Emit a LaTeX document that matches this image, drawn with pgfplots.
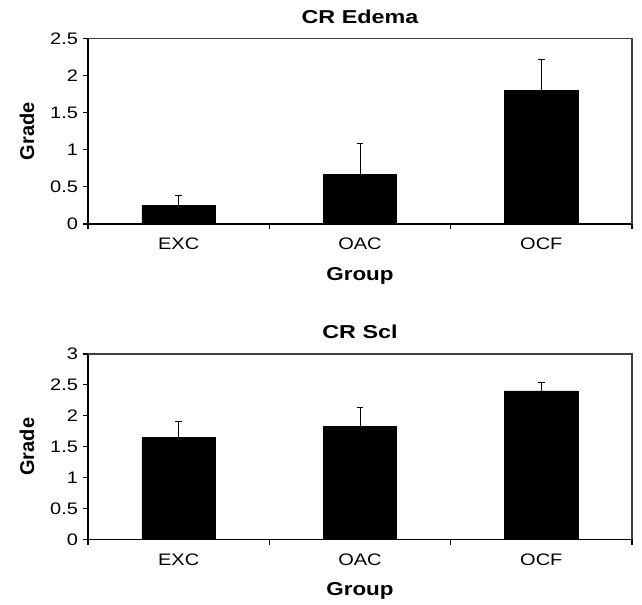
\documentclass[border=0pt]{standalone}
\usepackage{fontspec}
\setmainfont{Liberation Sans}
\usepackage{graphicx}
\usepackage{pgfplots}
\pgfplotsset{compat=1.18}

% the reference text is stretched sideways
\newcommand\sx[1]{\scalebox{1.2}[1]{#1}}

\pgfplotsset{
  grbar/.style={
    width=408pt, height=139pt, scale only axis,
    xmin=-0.5, xmax=2.5,
    xtick={-0.5,0.5,1.5,2.5},
    xticklabels={\sx{EXC},\sx{OAC},\sx{OCF}},
    x tick label as interval=true,
    axis x line*=bottom, axis y line*=left,
    axis line style={black, line width=0.8pt},
    tick style={black, line width=0.8pt},
    tick align=outside,
    major tick length=4pt,
    ymin=0,
    tick label style={font=\fontsize{12.5}{14}\selectfont},
    x tick label style={yshift=-3pt},
    xlabel={\sx{\textbf{Group}}}, ylabel={\textbf{Grade}},
    xlabel style={font=\fontsize{14}{16}\selectfont},
    ylabel style={font=\fontsize{15}{17}\selectfont},
    xlabel shift=6pt, ylabel shift=5pt,
    title style={font=\fontsize{14}{16}\selectfont\bfseries, yshift=2pt},
    bar width=0.405,
    clip=false,
  },
  grplot/.style={
    ybar, fill=black, draw=black,
    error bars/.cd, y dir=plus, y explicit,
    error bar style={black, line width=0.6pt},
    error mark options={rotate=90, mark size=2.5pt, line width=0.6pt, black},
  },
}

\begin{document}
\begin{tikzpicture}
\begin{axis}[grbar, name=top, title={\scalebox{1.25}[1]{CR Edema}},
  ymax=2.5, ytick={0,0.5,1,1.5,2,2.5},
  yticklabels={\sx{0},\sx{0.5},\sx{1},\sx{1.5},\sx{2},\sx{2.5}}]
\draw[black!75, line width=0.8pt] (rel axis cs:0,1) -- (rel axis cs:1,1) -- (rel axis cs:1,0);
\addplot[grplot] table[x=x, y=y, y error=e] {
x y e
0 0.253 0.131
1 0.669 0.416
2 1.804 0.411
};
\end{axis}
\begin{axis}[grbar, at={(top.south west)}, anchor=north west, yshift=-97.5pt,
  title={\scalebox{1.25}[1]{CR Scl}},
  ymax=3, ytick={0,0.5,1,1.5,2,2.5,3},
  yticklabels={\sx{0},\sx{0.5},\sx{1},\sx{1.5},\sx{2},\sx{2.5},\sx{3}}]
\draw[black!75, line width=0.8pt] (rel axis cs:0,1) -- (rel axis cs:1,1) -- (rel axis cs:1,0);
\addplot[grplot] table[x=x, y=y, y error=e] {
x y e
0 1.648 0.264
1 1.831 0.307
2 2.402 0.145
};
\end{axis}
\path (top.north west) ++(-66pt,29pt) coordinate (bbA);
\useasboundingbox (bbA) rectangle ++(481.5pt,-453.75pt);
\end{tikzpicture}
\end{document}
